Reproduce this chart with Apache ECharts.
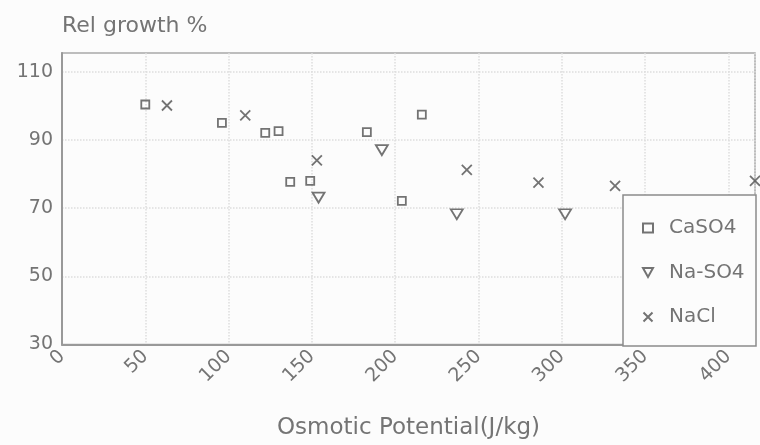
<!DOCTYPE html>
<html>
<head>
<meta charset="utf-8">
<script src="https://cdn.jsdelivr.net/npm/echarts@6/dist/echarts.min.js"></script>
<style>
  html, body { margin: 0; padding: 0; background: #fcfcfc; }
  #chart { width: 760px; height: 445px; }
</style>
</head>
<body>
<div id="chart"></div>
<script>
// Data: [osmotic potential (J/kg), relative growth %]
const seriesNames = ['CaSO4', 'Na-SO4', 'NaCl'];
const caso4 = [[50, 100.4], [96, 95], [122, 92.1], [130, 92.6], [137, 77.7], [149, 78], [183, 92.3], [204, 72.1], [216, 97.4]];
const naso4 = [[154, 73.1], [192, 87], [237, 68.2], [302, 68.2]];
const nacl = [[63, 100.1], [110, 97.2], [153, 84], [243, 81.2], [286, 77.5], [332, 76.5], [416, 78]];
const xTickStep = 50;
const yTickStep = 10;      // labels shown every 20 starting at 30
const yLabelStep = 20;
const xMin = 0, xMax = 416;
const yMin = 30, yMax = 115.5;

const textColor = '#747474';
const markColor = '#505050';
const font = 'DejaVu Sans';
const downTriangle = 'path://M0,0L10,0L5,9Z';
const crossMark = 'path://M0,0L10,10M10,0L0,10';

const chart = echarts.init(document.getElementById('chart'));
chart.setOption({
  backgroundColor: '#fcfcfc',
  animation: false,
  grid: {
    left: 62, right: 5, top: 53, bottom: 99,
    show: true, borderColor: '#a8a8a8', borderWidth: 1.5
  },
  xAxis: {
    type: 'value', min: xMin, max: xMax, interval: xTickStep,
    name: 'Osmotic Potential(J/kg)', nameLocation: 'middle', nameGap: 84,
    nameTextStyle: { fontFamily: font, fontSize: 23, color: textColor, verticalAlign: 'middle' },
    axisLine: { show: true, lineStyle: { color: '#999999', width: 2 } },
    axisTick: { show: false },
    axisLabel: { rotate: 45, fontFamily: font, fontSize: 19, color: textColor, margin: 9, showMaxLabel: false },
    splitLine: { show: true, lineStyle: { color: '#dddddd', type: 'dotted', width: 1.5 } }
  },
  yAxis: {
    type: 'value', min: yMin, max: yMax, interval: yTickStep,
    name: 'Rel growth %', nameLocation: 'end', nameGap: 27,
    nameTextStyle: { fontFamily: font, fontSize: 22, color: textColor, align: 'left', verticalAlign: 'middle' },
    axisLine: { show: true, lineStyle: { color: '#999999', width: 2 } },
    axisTick: { show: false },
    axisLabel: {
      fontFamily: font, fontSize: 19, color: textColor, margin: 9, showMaxLabel: false,
      formatter: v => ((v - yMin) % yLabelStep === 0 ? String(v) : '')
    },
    splitLine: { show: true, lineStyle: { color: ['#dddddd', 'rgba(0,0,0,0)'], type: 'dotted', width: 1.5 } }
  },
  graphic: [{
    type: 'rect', z: 3,
    shape: { x: 623, y: 195, width: 133, height: 151 },
    style: { fill: '#fcfcfc', stroke: '#8a8a8a', lineWidth: 1.5 }
  }],
  legend: {
    orient: 'vertical', left: 642, top: 218, padding: 0, itemGap: 24.5,
    itemWidth: 10, itemHeight: 9, z: 5,
    textStyle: { fontFamily: font, fontSize: 20, lineHeight: 20, color: textColor, padding: [0, 0, 0, 11] },
    data: seriesNames
  },
  series: [
    {
      name: seriesNames[0], type: 'scatter', data: caso4,
      symbol: 'rect', symbolSize: 8,
      itemStyle: { color: 'rgba(0,0,0,0)', borderColor: markColor, borderWidth: 1.8 }
    },
    {
      name: seriesNames[1], type: 'scatter', data: naso4,
      symbol: downTriangle, symbolSize: [12, 10],
      itemStyle: { color: 'rgba(0,0,0,0)', borderColor: markColor, borderWidth: 1.8 }
    },
    {
      name: seriesNames[2], type: 'scatter', data: nacl,
      symbol: crossMark, symbolSize: 10,
      itemStyle: { color: 'rgba(0,0,0,0)', borderColor: markColor, borderWidth: 1.8 }
    }
  ]
});
</script>
</body>
</html>
